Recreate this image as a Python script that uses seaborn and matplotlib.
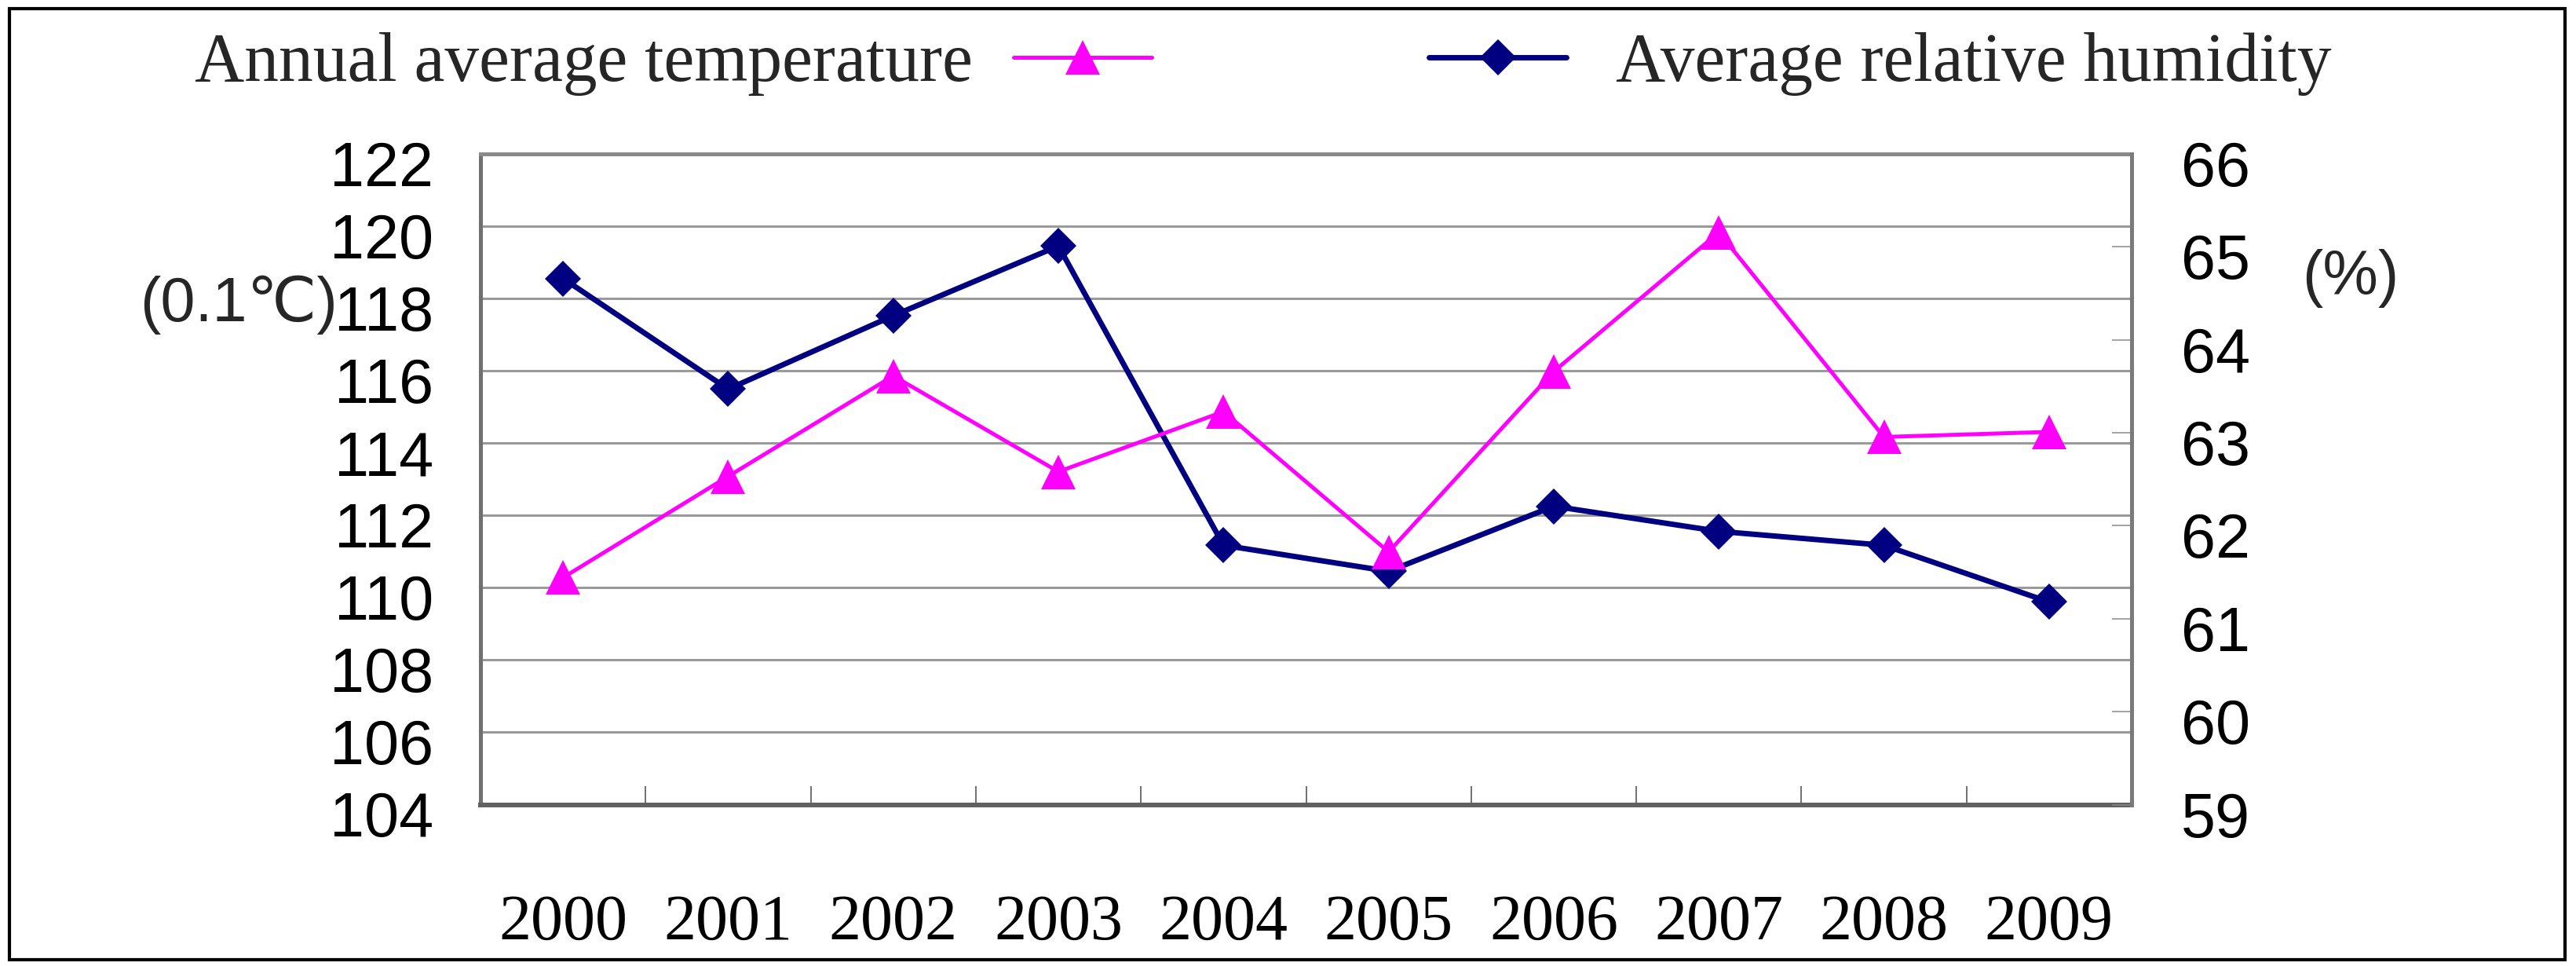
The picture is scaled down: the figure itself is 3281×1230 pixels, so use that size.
import matplotlib
matplotlib.use('Agg')
import matplotlib.pyplot as plt
import matplotlib.transforms as mtransforms
from matplotlib.patches import Rectangle
import seaborn as sns

# values
years = [2000, 2001, 2002, 2003, 2004, 2005, 2006, 2007, 2008, 2009]
temperature = [110.28, 113.08, 115.86, 113.21, 114.87, 110.99, 115.98, 119.83, 114.17, 114.31]
humidity = [64.66, 63.47, 64.26, 65.01, 61.79, 61.51, 62.21, 61.94, 61.79, 61.18]
temp_ticks = [104, 106, 108, 110, 112, 114, 116, 118, 120, 122]
hum_ticks = [59, 60, 61, 62, 63, 64, 65, 66]

temp_label = "Annual average temperature"
hum_label = "Average relative humidity"

MAGENTA = '#FF00FF'
NAVY = '#000080'

sns.set_style('white')
plt.rcParams['font.family'] = ['Liberation Sans', 'DejaVu Sans']

W, H = 3281, 1230
fig = plt.figure(figsize=(W / 100, H / 100), dpi=100)
pos = [612 / W, 1 - 1024.5 / H, (2715 - 612) / W, (1024.5 - 196) / H]

ax = fig.add_axes(pos)
ax2 = ax.twinx()
# top layer for the temperature line so it sits over the humidity line
ax3 = fig.add_axes(pos, sharex=ax, sharey=ax)
ax3.set_axis_off()

sns.lineplot(x=years, y=humidity, ax=ax2, color=NAVY, marker='D', markersize=23,
             markeredgewidth=0, linewidth=5, label=hum_label, legend=False)
sns.lineplot(x=years, y=temperature, ax=ax3, color=MAGENTA, marker='^', markersize=31,
             markeredgewidth=0, linewidth=3.6, label=temp_label, legend=False)

ax.set_xlim(years[0] - 0.5, years[-1] + 0.5)
ax.set_ylim(temp_ticks[0], temp_ticks[-1])
ax2.set_ylim(hum_ticks[0], hum_ticks[-1])

ax.set_yticks(temp_ticks)
ax.set_yticklabels([str(t) for t in temp_ticks])
ax2.set_yticks(hum_ticks)
ax2.set_yticklabels([str(t) for t in hum_ticks])
ax.set_xticks(years)
ax.set_xticklabels([str(y) for y in years], family='Liberation Serif', fontsize=59)
ax.set_xticks([y + 0.5 for y in years[:-1]], minor=True)

ax.grid(axis='y', color='#9a9a9a', linewidth=2.2)
ax.grid(axis='x', visible=False)
ax.set_axisbelow(True)

ax.tick_params(axis='y', which='both', length=0, pad=43, labelsize=57, labelcolor='black')
ax.tick_params(axis='x', which='major', length=0, pad=82, labelcolor='black')
ax.tick_params(axis='x', which='minor', direction='in', length=17, width=1.4,
               color='#707070', bottom=True)
ax2.tick_params(axis='y', direction='in', length=18, width=1.1, color='#8a8a8a',
                pad=45, labelsize=57, labelcolor='black')

ax.spines['left'].set_color('#707070')
ax.spines['left'].set_linewidth(3.6)
ax.spines['bottom'].set_color('#606060')
ax.spines['bottom'].set_linewidth(4.3)
ax.spines['top'].set_color('#8a8a8a')
ax.spines['top'].set_linewidth(3.6)
ax.spines['right'].set_visible(False)
for side in ['left', 'top', 'bottom']:
    ax2.spines[side].set_visible(False)
ax2.spines['right'].set_color('#7a7a7a')
ax2.spines['right'].set_linewidth(3.6)

for a in (ax, ax2, ax3):
    a.set_xlabel('')
    a.set_ylabel('')

# tick numbers sit a little below their gridlines in the original
shift = mtransforms.ScaledTranslation(0, -0.12, fig.dpi_scale_trans)
for lab in ax.get_yticklabels() + ax2.get_yticklabels():
    lab.set_transform(lab.get_transform() + shift)

fig.text(178 / W, 1 - 388 / H, "(0.1\u2103)", fontsize=57, ha='left', va='center',
         family=['Liberation Sans', 'DejaVu Sans'])
fig.text(2932 / W, 1 - 354 / H, "(%)", fontsize=57, ha='left', va='center')

temp_line = ax3.get_lines()[0]
hum_line = ax2.get_lines()[0]
legend_font = {'family': 'Liberation Serif', 'size': 63}
fig.legend([temp_line], [temp_label], loc='center left', bbox_to_anchor=(248 / W, 1 - 82 / H),
           markerfirst=False, frameon=False, prop=legend_font, borderpad=0, borderaxespad=0,
           handlelength=2.02, handletextpad=0.59)
fig.legend([hum_line], [hum_label], loc='center left', bbox_to_anchor=(1820 / W, 1 - 82 / H),
           markerfirst=True, frameon=False, prop=legend_font, borderpad=0, borderaxespad=0,
           handlelength=2.0, handletextpad=0.72)

fig.patches.append(Rectangle((12 / W, 1 - 1222 / H), (3267 - 12) / W, (1222 - 11) / H,
                             transform=fig.transFigure, fill=False, edgecolor='black',
                             linewidth=3))

fig.savefig('out.png', dpi=100)
